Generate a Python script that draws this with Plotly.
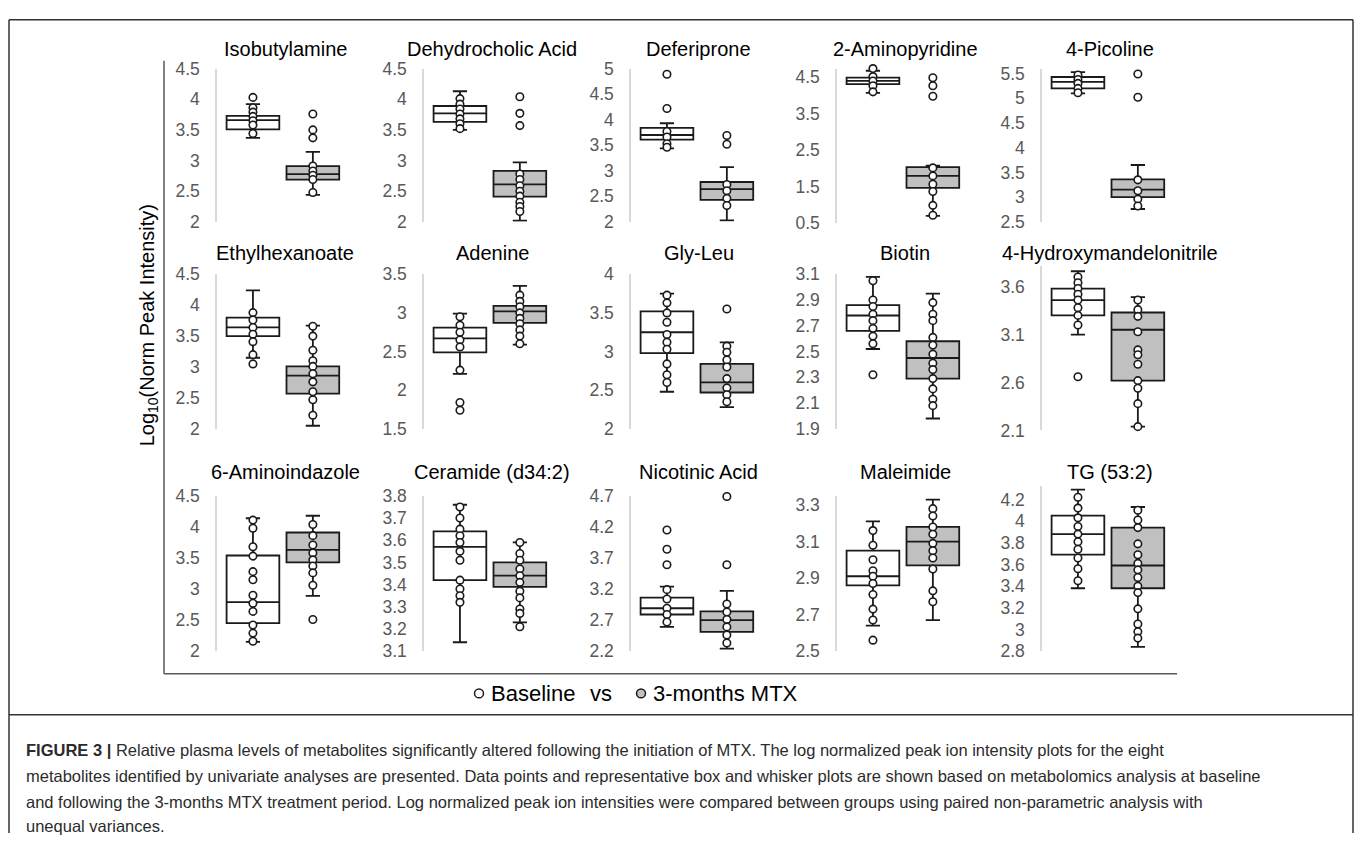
import plotly.graph_objects as go

# ---------------- data ----------------
metabolites = ["Isobutylamine", "Dehydrocholic Acid", "Deferiprone", "2-Aminopyridine", "4-Picoline",
               "Ethylhexanoate", "Adenine", "Gly-Leu", "Biotin", "4-Hydroxymandelonitrile",
               "6-Aminoindazole", "Ceramide (d34:2)", "Nicotinic Acid", "Maleimide", "TG (53:2)"]

# box statistics: lower whisker, Q1, median, Q3, upper whisker
base_lo  = [3.37, 3.50, 3.44, 4.07, 5.10, 3.15, 2.21, 2.48, 2.52, 3.10, 2.15, 3.14, 2.59, 2.64, 3.38]
base_q1  = [3.51, 3.63, 3.61, 4.31, 5.20, 3.50, 2.49, 2.98, 2.66, 3.30, 2.45, 3.42, 2.79, 2.86, 3.69]
base_med = [3.66, 3.77, 3.70, 4.40, 5.33, 3.64, 2.67, 3.25, 2.78, 3.46, 2.79, 3.57, 2.89, 2.91, 3.88]
base_q3  = [3.73, 3.89, 3.84, 4.49, 5.43, 3.80, 2.81, 3.52, 2.86, 3.58, 3.54, 3.64, 3.06, 3.05, 4.05]
base_hi  = [3.92, 4.13, 3.93, 4.68, 5.53, 4.24, 2.99, 3.75, 3.08, 3.76, 4.14, 3.76, 3.24, 3.21, 4.29]

mtx_lo  = [2.44, 2.02, 2.03, 0.69, 2.76, 2.05, 2.59, 2.28, 1.98, 2.14, 2.89, 3.23, 2.24, 2.67, 2.84]
mtx_q1  = [2.69, 2.41, 2.43, 1.46, 3.00, 2.57, 2.87, 2.47, 2.29, 2.62, 3.43, 3.39, 2.51, 2.97, 3.38]
mtx_med = [2.78, 2.61, 2.64, 1.79, 3.15, 2.86, 3.02, 2.60, 2.45, 3.15, 3.63, 3.44, 2.70, 3.10, 3.59]
mtx_q3  = [2.91, 2.83, 2.78, 2.03, 3.36, 3.01, 3.09, 2.84, 2.58, 3.33, 3.91, 3.50, 2.84, 3.18, 3.94]
mtx_hi  = [3.14, 2.97, 3.07, 2.07, 3.65, 3.67, 3.35, 3.12, 2.95, 3.49, 4.18, 3.59, 3.17, 3.33, 4.13]

# visible data points
base_points = [
    [4.03, 3.86, 3.79, 3.72, 3.65, 3.58, 3.44],
    [4.01, 3.92, 3.84, 3.76, 3.68, 3.60, 3.52],
    [4.89, 4.22, 3.77, 3.66, 3.53, 3.46],
    [4.74, 4.52, 4.40, 4.27, 4.10],
    [5.47, 5.38, 5.30, 5.20, 5.11],
    [3.88, 3.76, 3.64, 3.53, 3.41, 3.20, 3.05],
    [2.95, 2.84, 2.75, 2.65, 2.56, 2.26, 1.84, 1.74],
    [3.73, 3.63, 3.50, 3.38, 3.22, 3.12, 3.03, 2.84, 2.70, 2.60],
    [3.05, 2.90, 2.85, 2.79, 2.74, 2.68, 2.62, 2.56, 2.32],
    [3.70, 3.64, 3.58, 3.52, 3.46, 3.38, 3.30, 3.20, 2.66],
    [4.11, 3.98, 3.68, 3.53, 3.28, 3.15, 2.90, 2.77, 2.64, 2.42, 2.29, 2.16],
    [3.75, 3.70, 3.65, 3.62, 3.59, 3.55, 3.51, 3.42, 3.38, 3.35, 3.32],
    [4.15, 3.84, 3.59, 3.19, 3.04, 2.89, 2.79, 2.67],
    [3.16, 3.08, 3.00, 2.94, 2.91, 2.87, 2.81, 2.73, 2.67, 2.56],
    [4.22, 4.12, 4.03, 3.95, 3.88, 3.81, 3.74, 3.66, 3.56, 3.45],
]
mtx_points = [
    [3.76, 3.50, 3.37, 2.91, 2.83, 2.76, 2.69, 2.48],
    [4.04, 3.77, 3.57, 2.78, 2.69, 2.59, 2.50, 2.42, 2.32, 2.25, 2.17],
    [3.69, 3.52, 2.73, 2.61, 2.46, 2.32],
    [4.49, 4.27, 3.98, 2.01, 1.79, 1.56, 1.36, 0.98, 0.71],
    [5.49, 5.02, 3.35, 3.13, 2.96, 2.82],
    [3.66, 3.50, 3.27, 3.10, 3.01, 2.89, 2.76, 2.60, 2.47, 2.22],
    [3.23, 3.15, 3.08, 3.00, 2.93, 2.86, 2.78, 2.70, 2.60],
    [3.55, 3.07, 2.99, 2.89, 2.80, 2.65, 2.53, 2.44, 2.35],
    [2.88, 2.79, 2.74, 2.61, 2.55, 2.48, 2.41, 2.36, 2.29, 2.21, 2.13, 2.08],
    [3.46, 3.36, 3.29, 3.13, 2.94, 2.89, 2.79, 2.62, 2.54, 2.38, 2.14],
    [4.04, 3.86, 3.71, 3.58, 3.47, 3.37, 3.26, 3.06, 2.51],
    [3.59, 3.54, 3.51, 3.47, 3.44, 3.41, 3.37, 3.34, 3.29, 3.27, 3.21],
    [4.69, 3.59, 2.96, 2.83, 2.71, 2.59, 2.46, 2.33],
    [3.28, 3.24, 3.18, 3.14, 3.09, 3.05, 3.01, 2.95, 2.83, 2.77],
    [4.10, 4.01, 3.94, 3.79, 3.69, 3.61, 3.55, 3.48, 3.40, 3.34, 3.19, 3.05, 2.98, 2.92],
]

tick_labels = [
    ["2", "2.5", "3", "3.5", "4", "4.5"],
    ["2", "2.5", "3", "3.5", "4", "4.5"],
    ["2", "2.5", "3", "3.5", "4", "4.5", "5"],
    ["0.5", "1.5", "2.5", "3.5", "4.5"],
    ["2.5", "3", "3.5", "4", "4.5", "5", "5.5"],
    ["2", "2.5", "3", "3.5", "4", "4.5"],
    ["1.5", "2", "2.5", "3", "3.5"],
    ["2", "2.5", "3", "3.5", "4"],
    ["1.9", "2.1", "2.3", "2.5", "2.7", "2.9", "3.1"],
    ["2.1", "2.6", "3.1", "3.6"],
    ["2", "2.5", "3", "3.5", "4", "4.5"],
    ["3.1", "3.2", "3.3", "3.4", "3.5", "3.6", "3.7", "3.8"],
    ["2.2", "2.7", "3.2", "3.7", "4.2", "4.7"],
    ["2.5", "2.7", "2.9", "3.1", "3.3"],
    ["2.8", "3", "3.2", "3.4", "3.6", "3.8", "4", "4.2"],
]
y_min = [2, 2, 2, 0.5, 2.5, 2, 1.5, 2, 1.9, 2.1, 2, 3.1, 2.2, 2.5, 2.8]
y_max = [4.5, 4.5, 5, 4.74, 5.6, 4.5, 3.5, 4, 3.1, 3.81, 4.5, 3.8, 4.7, 3.35, 4.32]

caption_lines = [
    "<b>FIGURE 3 |</b> Relative plasma levels of metabolites significantly altered following the initiation of MTX. The log normalized peak ion intensity plots for the eight",
    "metabolites identified by univariate analyses are presented. Data points and representative box and whisker plots are shown based on metabolomics analysis at baseline",
    "and following the 3-months MTX treatment period. Log normalized peak ion intensities were compared between groups using paired non-parametric analysis with",
    "unequal variances.",
]

# ---------------- layout geometry (pixels) ----------------
W, H = 1358, 843
FONT = "Liberation Sans, Arial, sans-serif"
col_x0 = [217, 424, 631, 837, 1042]
PW = 136
row_top = [60, 270.7, 497.7]
row_bot = [217, 429, 656.7]
title_y = [40, 249, 473]
dom_override = {3: (60, 218), 9: (262.7, 430.7), 14: (488, 656.7)}


def px(x):
    return x / W


def py(y):
    return 1 - y / H


fig = go.Figure()
layout_axes = {}
annotations = []

for i, name in enumerate(metabolites):
    r, c = divmod(i, 5)
    n = i + 1
    xa = "x" if n == 1 else f"x{n}"
    ya = "y" if n == 1 else f"y{n}"
    top, bot = dom_override.get(i, (row_top[r], row_bot[r]))
    x0 = col_x0[c]

    for xpos, lo, q1, med, q3, hi, fill in [
        (0, base_lo, base_q1, base_med, base_q3, base_hi, "white"),
        (1, mtx_lo, mtx_q1, mtx_med, mtx_q3, mtx_hi, "#c0c0c0"),
    ]:
        fig.add_trace(go.Box(
            x=[xpos], lowerfence=[lo[i]], q1=[q1[i]], median=[med[i]], q3=[q3[i]], upperfence=[hi[i]],
            width=0.88, whiskerwidth=0.27, fillcolor=fill, boxpoints=False,
            line=dict(color="#1a1a1a", width=1.8),
            xaxis=xa, yaxis=ya, showlegend=False, hoverinfo="skip",
        ))
    for xpos, pts in [(0, base_points[i]), (1, mtx_points[i])]:
        fig.add_trace(go.Scatter(
            x=[xpos] * len(pts), y=pts, mode="markers",
            marker=dict(symbol="circle", size=7.5, color="white", line=dict(color="#1a1a1a", width=1.6)),
            xaxis=xa, yaxis=ya, showlegend=False, hoverinfo="skip", cliponaxis=False,
        ))

    kx = "xaxis" if n == 1 else f"xaxis{n}"
    ky = "yaxis" if n == 1 else f"yaxis{n}"
    layout_axes[kx] = dict(domain=[px(x0), px(x0 + PW)], range=[-0.6, 1.67], visible=False,
                           anchor=ya, fixedrange=True)
    layout_axes[ky] = dict(domain=[py(bot), py(top)], range=[y_min[i], y_max[i]],
                           tickvals=[float(t) for t in tick_labels[i]], ticktext=tick_labels[i],
                           showline=True, linecolor="#d9d9d9", linewidth=1.5,
                           showgrid=False, zeroline=False, ticks="", ticklabelstandoff=12,
                           tickfont=dict(family=FONT, size=17.5, color="#595959"),
                           anchor=xa, fixedrange=True)
    annotations.append(dict(text=name, x=px(x0 + 68), y=py(title_y[r]), xref="paper", yref="paper",
                            xanchor="center", yanchor="middle", showarrow=False,
                            font=dict(family=FONT, size=20, color="#000000")))

# y-axis title
annotations.append(dict(text="Log<sub>10</sub>(Norm Peak Intensity)", x=px(148), y=py(323),
                        xref="paper", yref="paper", xanchor="center", yanchor="middle",
                        textangle=-90, showarrow=False, font=dict(family=FONT, size=20, color="#000000")))

# legend text
annotations.append(dict(text="Baseline", x=px(489), y=py(700), xref="paper", yref="paper",
                        xanchor="left", yanchor="middle", showarrow=False,
                        font=dict(family=FONT, size=22, color="#000000")))
annotations.append(dict(text="vs", x=px(601), y=py(700), xref="paper", yref="paper",
                        xanchor="center", yanchor="middle", showarrow=False,
                        font=dict(family=FONT, size=22, color="#000000")))
annotations.append(dict(text="3-months MTX", x=px(651), y=py(700), xref="paper", yref="paper",
                        xanchor="left", yanchor="middle", showarrow=False,
                        font=dict(family=FONT, size=22, color="#000000")))

# caption
cap_y = [758, 785, 811, 836]
for t, yy in zip(caption_lines, cap_y):
    annotations.append(dict(text=t, x=px(24), y=py(yy), xref="paper", yref="paper",
                            xanchor="left", yanchor="middle", showarrow=False,
                            font=dict(family=FONT, size=16.5, color="#2b2b2b")))

shapes = []
frame = dict(color="#333333", width=1.5)
# outer frame
shapes.append(dict(type="line", xref="paper", yref="paper", x0=px(9), x1=px(1353), y0=py(10), y1=py(10), line=frame))
shapes.append(dict(type="line", xref="paper", yref="paper", x0=px(9), x1=px(9), y0=py(10), y1=py(843), line=frame))
shapes.append(dict(type="line", xref="paper", yref="paper", x0=px(1353), x1=px(1353), y0=py(10), y1=py(843), line=frame))
shapes.append(dict(type="line", xref="paper", yref="paper", x0=px(9), x1=px(1353), y0=py(722), y1=py(722), line=frame))
# inner L-shaped chart frame
inner = dict(color="#595959", width=1.5)
shapes.append(dict(type="line", xref="paper", yref="paper", x0=px(164), x1=px(164), y0=py(52), y1=py(680), line=inner))
shapes.append(dict(type="line", xref="paper", yref="paper", x0=px(164), x1=px(1177), y0=py(680), y1=py(680), line=inner))
# legend markers
for cx, fill in [(479, "white"), (641, "#c0c0c0")]:
    shapes.append(dict(type="circle", xref="paper", yref="paper",
                       x0=px(cx - 4.5), x1=px(cx + 4.5), y0=py(700 + 4.5), y1=py(700 - 4.5),
                       fillcolor=fill, line=dict(color="#1a1a1a", width=1.5)))

fig.update_layout(
    width=W, height=H, margin=dict(l=0, r=0, t=0, b=0),
    paper_bgcolor="white", plot_bgcolor="rgba(0,0,0,0)",
    annotations=annotations, shapes=shapes, showlegend=False,
    **layout_axes,
)

fig.write_html("out.html", config={"displayModeBar": False},
               post_script="document.body.style.margin='0';document.body.style.overflow='hidden';")
